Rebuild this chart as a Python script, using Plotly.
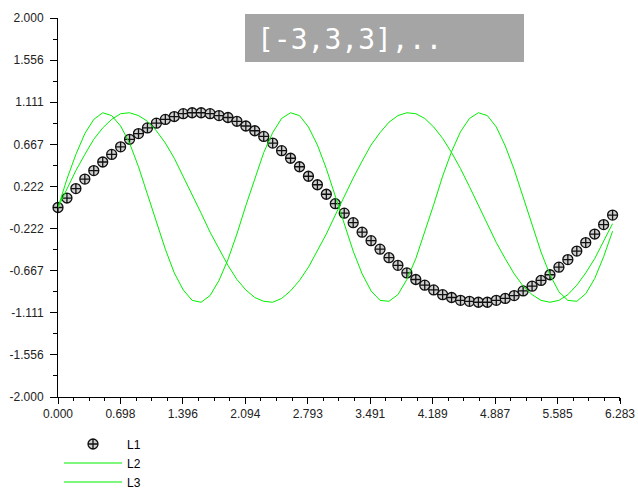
import plotly.graph_objects as go

# x samples (step 0.1 from 0 to 6.2)
x_vals = [0.0, 0.1, 0.2, 0.3, 0.4, 0.5, 0.6, 0.7, 0.8, 0.9,
          1.0, 1.1, 1.2, 1.3, 1.4, 1.5, 1.6, 1.7, 1.8, 1.9,
          2.0, 2.1, 2.2, 2.3, 2.4, 2.5, 2.6, 2.7, 2.8, 2.9,
          3.0, 3.1, 3.2, 3.3, 3.4, 3.5, 3.6, 3.7, 3.8, 3.9,
          4.0, 4.1, 4.2, 4.3, 4.4, 4.5, 4.6, 4.7, 4.8, 4.9,
          5.0, 5.1, 5.2, 5.3, 5.4, 5.5, 5.6, 5.7, 5.8, 5.9,
          6.0, 6.1, 6.2]

L1 = [0.00, 0.10, 0.20, 0.30, 0.39, 0.48, 0.56, 0.64, 0.72, 0.78,
      0.84, 0.89, 0.93, 0.96, 0.99, 1.00, 1.00, 0.99, 0.97, 0.95,
      0.91, 0.86, 0.81, 0.75, 0.68, 0.60, 0.52, 0.43, 0.33, 0.24,
      0.14, 0.04, -0.06, -0.16, -0.26, -0.35, -0.44, -0.53, -0.61, -0.69,
      -0.76, -0.82, -0.87, -0.92, -0.95, -0.98, -0.99, -1.00, -1.00, -0.98,
      -0.96, -0.93, -0.88, -0.83, -0.77, -0.71, -0.63, -0.55, -0.46, -0.37,
      -0.28, -0.18, -0.08]

L2 = [0.00, 0.30, 0.56, 0.78, 0.93, 1.00, 0.97, 0.86, 0.68, 0.43,
      0.14, -0.16, -0.44, -0.69, -0.87, -0.98, -1.00, -0.93, -0.77, -0.55,
      -0.28, 0.02, 0.31, 0.58, 0.79, 0.94, 1.00, 0.97, 0.85, 0.66,
      0.41, 0.12, -0.17, -0.46, -0.70, -0.88, -0.98, -0.99, -0.92, -0.76,
      -0.54, -0.26, 0.03, 0.33, 0.59, 0.80, 0.94, 1.00, 0.97, 0.85,
      0.65, 0.40, 0.11, -0.19, -0.47, -0.71, -0.89, -0.98, -0.99, -0.91,
      -0.75, -0.52, -0.25]

L3 = [0.00, 0.20, 0.39, 0.56, 0.72, 0.84, 0.93, 0.99, 1.00, 0.97,
      0.91, 0.81, 0.68, 0.52, 0.33, 0.14, -0.06, -0.26, -0.44, -0.61,
      -0.76, -0.87, -0.95, -0.99, -1.00, -0.96, -0.88, -0.77, -0.63, -0.46,
      -0.28, -0.08, 0.12, 0.31, 0.49, 0.66, 0.79, 0.90, 0.97, 1.00,
      0.99, 0.94, 0.85, 0.73, 0.58, 0.41, 0.22, 0.02, -0.17, -0.37,
      -0.54, -0.70, -0.83, -0.92, -0.98, -1.00, -0.98, -0.92, -0.82, -0.69,
      -0.54, -0.36, -0.17]

x_ticks = [0.000, 0.698, 1.396, 2.094, 2.793, 3.491, 4.189, 4.887, 5.585, 6.283]
x_tick_labels = ["0.000", "0.698", "1.396", "2.094", "2.793", "3.491",
                 "4.189", "4.887", "5.585", "6.283"]
y_ticks = [-2.000, -1.556, -1.111, -0.667, -0.222, 0.222, 0.667, 1.111, 1.556, 2.000]
y_tick_labels = ["-2.000", "-1.556", "-1.111", "-0.667", "-0.222", "0.222",
                 "0.667", "1.111", "1.556", "2.000"]

title_text = "[-3,3,3],.."

W, H = 638, 490
L, R, T, B = 58, 18, 18, 93
pw, ph = W - L - R, H - T - B


def px_x(p):
    return (p - L) / pw


def px_y(p):
    return (H - B - p) / ph


green = "#00f000"
fig = go.Figure()
fig.add_trace(go.Scatter(
    x=x_vals, y=L1, mode="markers", name="L1",
    marker=dict(symbol="circle-cross", size=10, color="#d0d0d0",
                line=dict(color="#111111", width=1.3)),
    cliponaxis=False,
))
fig.add_trace(go.Scatter(x=x_vals, y=L2, mode="lines", name="L2",
                         line=dict(color=green, width=1)))
fig.add_trace(go.Scatter(x=x_vals, y=L3, mode="lines", name="L3",
                         line=dict(color=green, width=1)))

axis_font = dict(family="Liberation Sans, Arial, sans-serif", size=12, color="#222222")

fig.update_xaxes(
    range=[0, 6.283], tickmode="array", tickvals=x_ticks, ticktext=x_tick_labels,
    showgrid=False, zeroline=False, showline=True, linecolor="black", linewidth=1,
    ticks="outside", ticklen=6, tickcolor="black", tickwidth=1, tickfont=axis_font,
    automargin=False,
    minor=dict(tickmode="linear", tick0=0, dtick=(x_ticks[1] - x_ticks[0]) / 4,
               ticks="outside", ticklen=3, tickcolor="black", showgrid=False),
)
fig.update_yaxes(
    range=[-2, 2], tickmode="array", tickvals=y_ticks, ticktext=y_tick_labels,
    showgrid=False, zeroline=False, showline=True, linecolor="black", linewidth=1,
    ticks="outside", ticklen=7, tickcolor="black", tickwidth=1, tickfont=axis_font,
    ticklabelstandoff=4, automargin=False,
    minor=dict(tickmode="linear", tick0=-2, dtick=(4 / 9) / 2,
               ticks="outside", ticklen=4, tickcolor="black", showgrid=False),
)

fig.add_shape(type="rect", xref="paper", yref="paper",
              x0=px_x(245), x1=px_x(524), y0=px_y(62), y1=px_y(14),
              fillcolor="#a5a5a5", line=dict(width=0), layer="above")
fig.add_annotation(text=title_text, xref="paper", yref="paper",
                   x=px_x(255), y=px_y(39), xanchor="left", yanchor="middle",
                   showarrow=False,
                   font=dict(family="DejaVu Sans Mono, monospace", size=28, color="white"))

fig.update_layout(
    width=W, height=H,
    margin=dict(l=L, r=R, t=T, b=B, autoexpand=False),
    paper_bgcolor="white", plot_bgcolor="white",
    showlegend=True,
    legend=dict(x=px_x(59), y=px_y(429.5), xanchor="left", yanchor="top",
                font=dict(family="Liberation Sans, Arial, sans-serif", size=12, color="black"),
                bgcolor="rgba(0,0,0,0)", itemwidth=58, tracegroupgap=0),
)

fig.write_html("out.html", config={"displayModeBar": False},
               post_script="document.body.style.margin='0';")
